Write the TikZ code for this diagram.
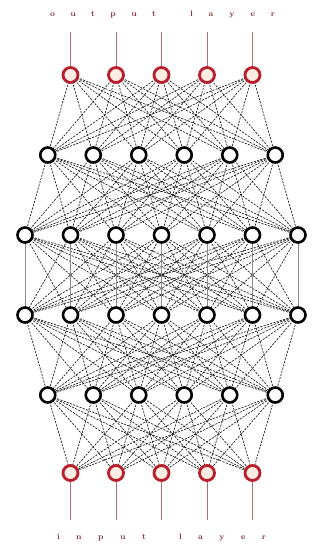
\documentclass[tikz,border=0pt]{standalone}
\usetikzlibrary{backgrounds}
\definecolor{nred}{RGB}{185,30,45}
\definecolor{nfill}{RGB}{255,236,226}
\definecolor{lred}{RGB}{170,110,115}
\definecolor{tred}{RGB}{130,45,55}
\begin{document}
\begin{tikzpicture}[x=1pt,y=-1pt,
 neuron/.style={circle,draw=black,line width=2.6pt,fill=white,minimum size=15pt,inner sep=0pt},
 redneuron/.style={circle,draw=nred,line width=2.8pt,fill=nfill,minimum size=15pt,inner sep=0pt},
 link/.style={draw=black!85,line width=0.7pt,dash pattern=on 2.2pt off 1.2pt},
 vlink/.style={draw=black!45,line width=0.9pt},
 redline/.style={draw=lred,line width=1pt},
 lbl/.style={text=tred,font=\footnotesize\bfseries,inner sep=0pt}]
\useasboundingbox (0,0) rectangle (322,550);
% nodes
\foreach \k in {1,...,5} \node[redneuron] (o\k) at ({161.5+(\k-3)*45.5},75) {};
\foreach \k in {1,...,6} \node[neuron] (a\k) at ({161.5+(\k-3.5)*45.5},155) {};
\foreach \k in {1,...,7} \node[neuron] (b\k) at ({161.5+(\k-4)*45.5},235) {};
\foreach \k in {1,...,7} \node[neuron] (c\k) at ({161.5+(\k-4)*45.5},315) {};
\foreach \k in {1,...,6} \node[neuron] (d\k) at ({161.5+(\k-3.5)*45.5},395) {};
\foreach \k in {1,...,5} \node[redneuron] (i\k) at ({161.5+(\k-3)*45.5},473) {};
% label endpoints
\foreach \k in {1,...,5} {
  \coordinate (ot\k) at ({161.5+(\k-3)*45.5},32);
  \coordinate (ib\k) at ({161.5+(\k-3)*45.5},520);
}
\begin{scope}[on background layer]
\foreach \p in {1,...,5} \foreach \q in {1,...,6} \draw[link] (o\p.center) -- (a\q.center);
\foreach \p in {1,...,6} \foreach \q in {1,...,7} \draw[link] (a\p.center) -- (b\q.center);
\foreach \p in {1,...,7} \foreach \q in {1,...,7} \draw[link] (b\p.center) -- (c\q.center);
\foreach \p in {1,...,7} \draw[vlink] (b\p.center) -- (c\p.center);
\foreach \p in {1,...,7} \foreach \q in {1,...,6} \draw[link] (c\p.center) -- (d\q.center);
\foreach \p in {1,...,6} \foreach \q in {1,...,5} \draw[link] (d\p.center) -- (i\q.center);
\end{scope}
\foreach \k in {1,...,5} {
  \draw[redline] (o\k) -- (ot\k);
  \draw[redline] (i\k) -- (ib\k);
}
% labels
\node[lbl] (tw1) at (103,15) {\makebox[106pt][s]{o u t p u t}};
\node[lbl] (tw2) at (232.5,15) {\makebox[85pt][s]{l a y e r}};
\node[lbl] (bw1) at (101.5,538) {\makebox[89pt][s]{i n p u t}};
\node[lbl] (bw2) at (222.5,538) {\makebox[87pt][s]{l a y e r}};
\end{tikzpicture}
\end{document}
